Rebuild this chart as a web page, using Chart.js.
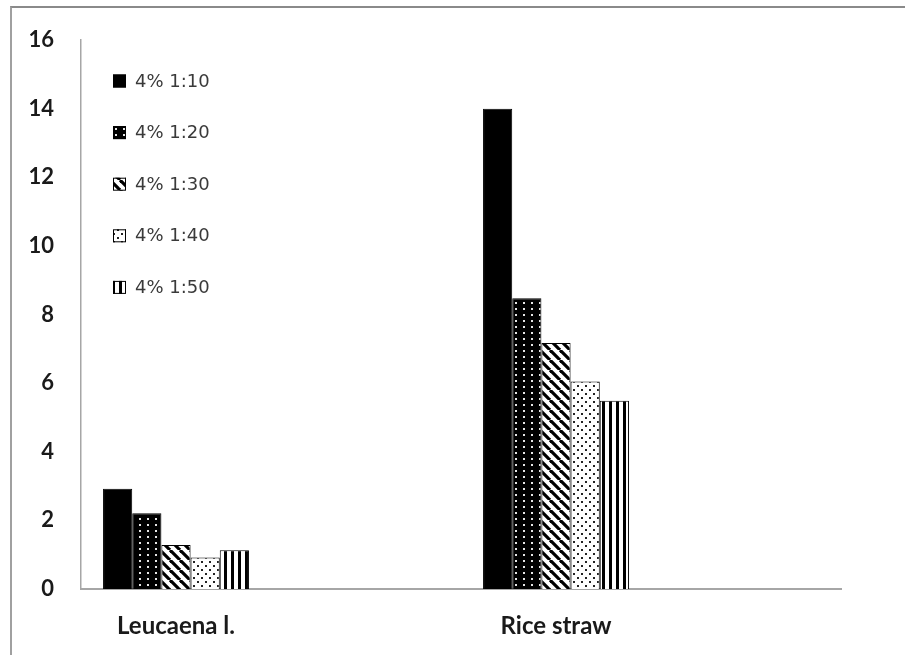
<!DOCTYPE html>
<html>
<head>
<meta charset="utf-8">
<script src="https://cdn.jsdelivr.net/npm/chart.js@4"></script>
<style>
  html, body { margin: 0; padding: 0; background: #fff; overflow: hidden; }
  #wrap { position: relative; width: 905px; height: 655px; }
  #frame { position: absolute; left: 10px; top: 6px; width: 920px; height: 680px;
           border-left: 2px solid #a0a0a0; border-top: 2px solid #8a8a8a; }
  #myChart { position: absolute; left: 0; top: 0; }
</style>
</head>
<body>
<div id="wrap">
  <div id="frame"></div>
  <canvas id="myChart" width="905" height="655"></canvas>
</div>
<script>
//Data_
const categories = ['Leucaena l.', '', 'Rice straw', ''];
const seriesNames = ['4% 1:10', '4% 1:20', '4% 1:30', '4% 1:40', '4% 1:50'];
const leucaena = [2.92, 2.21, 1.28, 0.92, 1.13];
const riceStraw = [14.0, 8.48, 7.17, 6.05, 5.49];
const yMax = 16;
const yStep = 2;

const graph = document.getElementById('myChart');
const g = graph.getContext('2d');

//Patterns_
function makePattern(w, h, draw) {
    const c = document.createElement('canvas');
    c.width = w;
    c.height = h;
    draw(c.getContext('2d'));
    return g.createPattern(c, 'repeat');
}

const fills = [
    '#000',
    // black with small white dots
    makePattern(8, 6, (x) => {
        x.fillStyle = '#000'; x.fillRect(0, 0, 8, 6);
        x.fillStyle = '#e6e6e6'; x.fillRect(3, 2, 2, 2);
    }),
    // diagonal "\" stripes
    makePattern(10, 10, (x) => {
        x.fillStyle = '#fff'; x.fillRect(0, 0, 10, 10);
        x.strokeStyle = '#000'; x.lineWidth = 3.2;
        [-10, 0, 10].forEach(o => {
            x.beginPath(); x.moveTo(o, 0); x.lineTo(o + 10, 10); x.stroke();
        });
    }),
    // white with sparse black dots
    makePattern(8, 8, (x) => {
        x.fillStyle = '#fff'; x.fillRect(0, 0, 8, 8);
        x.fillStyle = '#222';
        x.fillRect(1, 1, 2, 2);
        x.fillRect(5, 5, 2, 2);
    }),
    // vertical stripes
    makePattern(7, 4, (x) => {
        x.fillStyle = '#fff'; x.fillRect(0, 0, 7, 4);
        x.fillStyle = '#000'; x.fillRect(0, 0, 3, 4);
    })
];

//Legend inside the plot
const insideLegend = {
    id: 'insideLegend',
    afterDraw(chart) {
        const ctx = chart.ctx;
        ctx.save();
        ctx.font = '18px "DejaVu Sans"';
        ctx.textBaseline = 'middle';
        chart.data.datasets.forEach((ds, i) => {
            const cy = 81 + i * 51.6;
            ctx.fillStyle = ds.backgroundColor;
            ctx.fillRect(113, cy - 6.5, 13, 13);
            ctx.strokeStyle = '#000';
            ctx.lineWidth = 1;
            ctx.strokeRect(113.5, cy - 6, 12, 12);
            ctx.fillStyle = '#3a3a3a';
            ctx.fillText(ds.label, 135, cy + 1);
        });
        ctx.restore();
    }
};

const datasets = seriesNames.map((name, i) => ({
    label: name,
    data: [leucaena[i], null, riceStraw[i], null],
    backgroundColor: fills[i],
    borderColor: '#000',
    borderWidth: 1,
    barPercentage: 1.0,
    categoryPercentage: 0.768
}));

const chart = new Chart(graph, {
    type: 'bar',
    data: { labels: categories, datasets: datasets },
    options: {
        responsive: false,
        animation: false,
        layout: { padding: { top: 40, right: 64, left: 0, bottom: 0 } },
        plugins: { legend: { display: false }, tooltip: { enabled: false } },
        scales: {
            x: {
                grid: { display: false, drawTicks: false },
                border: { display: true, color: '#a6a6a6', width: 2 },
                ticks: {
                    autoSkip: false,
                    maxRotation: 0,
                    padding: 23,
                    color: '#1a1a1a',
                    font: { family: 'Lato', weight: 'bold', size: 24 }
                },
                afterFit: (scale) => { scale.height = 66; }
            },
            y: {
                min: 0,
                max: yMax,
                grid: { display: false, drawTicks: false },
                border: { display: true, color: '#a6a6a6', width: 1.5 },
                ticks: {
                    stepSize: yStep,
                    padding: 27,
                    color: '#1a1a1a',
                    font: { family: 'Lato', weight: 'bold', size: 22 }
                },
                afterFit: (scale) => { scale.width = 81; }
            }
        }
    },
    plugins: [insideLegend]
});
</script>
</body>
</html>
